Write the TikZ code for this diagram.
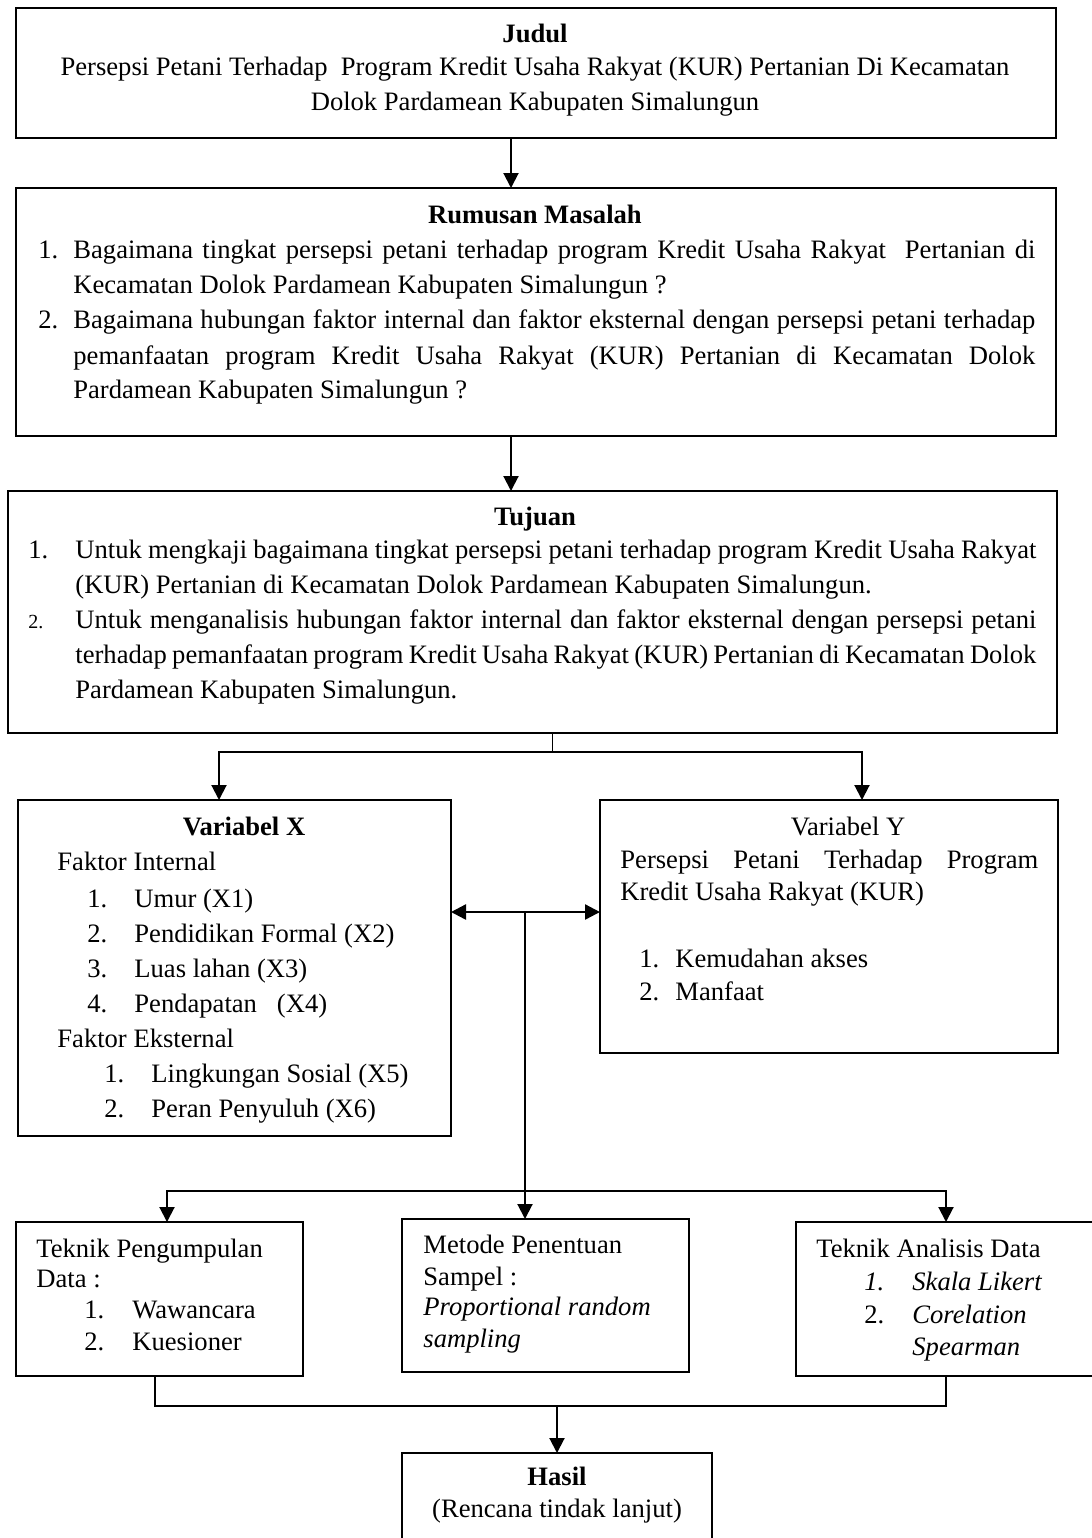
\documentclass[tikz,border=0pt]{standalone}
\usepackage{fontspec}
\setmainfont{Liberation Serif}
\usetikzlibrary{arrows.meta,calc}
\newcommand\myfs{\fontsize{13.3}{17}\selectfont}
\begin{document}
\begin{tikzpicture}[x=0.5pt,y=-0.5pt,
  box/.style={draw, line width=0.75pt, inner sep=0, outer sep=0, anchor=north west},
  t/.style={anchor=base west, inner sep=0, font=\myfs},
  tc/.style={anchor=base, inner sep=0, font=\myfs},
  tb/.style={anchor=base, inner sep=0, font=\myfs\bfseries},
  ti/.style={anchor=base west, inner sep=0, font=\myfs\itshape},
  arr/.style={line width=1pt, -{Triangle[length=7.5pt,width=7.5pt]}},
  darr/.style={line width=1.2pt, {Triangle[length=7.5pt,width=7.5pt]}-{Triangle[length=7.5pt,width=7.5pt]}},
  ln/.style={line width=1pt},
  thinln/.style={line width=0.5pt}]
\useasboundingbox (0,0) rectangle (1092,1538);

% boxes
\node[box, minimum width=520pt, minimum height=65pt] (judul) at (16,8) {};
\node[box, minimum width=520pt, minimum height=124pt] (rumusan) at (16,188) {};
\node[box, minimum width=524.5pt, minimum height=121pt] (tujuan) at (8,491) {};
\node[box, minimum width=216.5pt, minimum height=168pt] (varx) at (18,800) {};
\node[box, minimum width=229pt, minimum height=126.5pt] (vary) at (600,800) {};
\node[box, minimum width=143.5pt, minimum height=77pt] (teknik) at (16,1222) {};
\node[box, minimum width=143.5pt, minimum height=76.5pt] (metode) at (402,1219) {};
\node[box, minimum width=160pt, minimum height=77pt] (analisis) at (796,1222) {};
\node[box, minimum width=155pt, minimum height=60pt] (hasil) at (402,1453) {};

% Judul
\node[tb] (j0) at (535,42) {Judul};
\node[tc] (j1) at (535,75) {Persepsi Petani Terhadap\ \ Program Kredit Usaha Rakyat (KUR) Pertanian Di Kecamatan};
\node[tc] (j2) at (535,110) {Dolok Pardamean Kabupaten Simalungun};

% Rumusan
\node[tb] (r0) at (535,223) {Rumusan Masalah};
\node[t] (rn1) at (38,258) {1.};
\node[t] (r1) at (73,258) {\makebox[481pt][s]{Bagaimana tingkat persepsi petani terhadap program Kredit Usaha Rakyat\ \ Pertanian di}};
\node[t] (r2) at (73,293) {Kecamatan Dolok Pardamean Kabupaten Simalungun ?};
\node[t] (rn2) at (38,328) {2.};
\node[t] (r3) at (73,328) {\makebox[481pt][s]{Bagaimana hubungan faktor internal dan faktor eksternal dengan persepsi petani terhadap}};
\node[t] (r4) at (73,364) {\makebox[481pt][s]{pemanfaatan program Kredit Usaha Rakyat (KUR) Pertanian di Kecamatan Dolok}};
\node[t] (r5) at (73,398) {Pardamean Kabupaten Simalungun ?};

% Tujuan
\node[tb] (u0) at (535,525) {Tujuan};
\node[t] (un1) at (28,558) {1.};
\node[t] (u1) at (75,558) {\makebox[480.5pt][s]{Untuk mengkaji bagaimana tingkat persepsi petani terhadap program Kredit Usaha Rakyat}};
\node[t] (u2) at (75,593) {(KUR) Pertanian di Kecamatan Dolok Pardamean Kabupaten Simalungun.};
\node[anchor=base west, inner sep=0, font=\fontsize{10}{12}\selectfont] (un2) at (28,628) {2.};
\node[t] (u3) at (75,628) {\makebox[480.5pt][s]{Untuk menganalisis hubungan faktor internal dan faktor eksternal dengan persepsi petani}};
\node[t] (u4) at (75,663) {\makebox[480.5pt][s]{terhadap pemanfaatan program Kredit Usaha Rakyat (KUR) Pertanian di Kecamatan Dolok}};
\node[t] (u5) at (75,698) {Pardamean Kabupaten Simalungun.};

% Variabel X
\node[tb] (x0) at (244,835) {Variabel X};
\node[t] (x1) at (57,870) {Faktor Internal};
\node[t] (xn1) at (87,907) {1.};
\node[t] (x2) at (134,907) {Umur (X1)};
\node[t] (xn2) at (87,942) {2.};
\node[t] (x3) at (134,942) {Pendidikan Formal (X2)};
\node[t] (xn3) at (87,977) {3.};
\node[t] (x4) at (134,977) {Luas lahan (X3)};
\node[t] (xn4) at (87,1012) {4.};
\node[t] (x5) at (134,1012) {Pendapatan\ \ \ (X4)};
\node[t] (x6) at (57,1047) {Faktor Eksternal};
\node[t] (xn5) at (104,1082) {1.};
\node[t] (x7) at (151,1082) {Lingkungan Sosial (X5)};
\node[t] (xn6) at (104,1117) {2.};
\node[t] (x8) at (151,1117) {Peran Penyuluh (X6)};

% Variabel Y
\node[tc] (y0) at (848,835) {Variabel Y};
\node[t] (y1) at (620,868) {\makebox[209pt][s]{Persepsi Petani Terhadap Program}};
\node[t] (y2) at (620,900) {Kredit Usaha Rakyat (KUR)};
\node[t] (yn1) at (639,967) {1.};
\node[t] (y3) at (675,967) {Kemudahan akses};
\node[t] (yn2) at (639,1000) {2.};
\node[t] (y4) at (675,1000) {Manfaat};

% Teknik Pengumpulan
\node[t] (k1) at (36,1257) {Teknik Pengumpulan};
\node[t] (k2) at (36,1287) {Data :};
\node[t] (kn1) at (84,1318) {1.};
\node[t] (k3) at (132,1318) {Wawancara};
\node[t] (kn2) at (84,1350) {2.};
\node[t] (k4) at (132,1350) {Kuesioner};

% Metode
\node[t] (m1) at (423,1253) {Metode Penentuan};
\node[t] (m2) at (423,1285) {Sampel :};
\node[ti] (m3) at (423,1315) {Proportional random};
\node[ti] (m4) at (423,1347) {sampling};

% Analisis
\node[t] (a1) at (816,1257) {Teknik Analisis Data};
\node[ti] (an1) at (864,1290) {1.};
\node[ti] (a2) at (912,1290) {Skala Likert};
\node[t] (an2) at (864,1323) {2.};
\node[ti] (a3) at (912,1323) {Corelation};
\node[ti] (a4) at (912,1355) {Spearman};

% Hasil
\node[tb] (h0) at (557,1485) {Hasil};
\node[tc] (h1) at (557,1517) {(Rencana tindak lanjut)};

% connectors
\coordinate (c1) at (511,0);
\draw[arr] (judul.south -| c1) -- (rumusan.north -| c1);
\draw[arr] (rumusan.south -| c1) -- (tujuan.north -| c1);
\coordinate (s1) at (552,752);
\coordinate (xa) at (219,0);
\coordinate (xb) at (862,0);
\draw[thinln] (tujuan.south -| s1) -- (s1);
\draw[arr] (s1) -| (varx.north -| xa);
\draw[arr] (s1) -| (vary.north -| xb);
\coordinate (m) at (525,912);
\draw[darr] (varx.east |- m) -- (vary.west |- m);
\draw[arr] (m) -- (metode.north -| m);
\coordinate (h1c) at (525,1191);
\coordinate (xc) at (167,0);
\coordinate (xd) at (946,0);
\coordinate (xe) at (155,0);
\draw[arr] (h1c) -| (teknik.north -| xc);
\draw[arr] (h1c) -| (analisis.north -| xd);
\coordinate (b1) at (557,1406);
\draw[ln] (teknik.south -| xe) |- (b1);
\draw[ln] (analisis.south -| xd) |- (b1);
\draw[arr] (b1) -- (hasil.north -| b1);
\end{tikzpicture}
\end{document}
